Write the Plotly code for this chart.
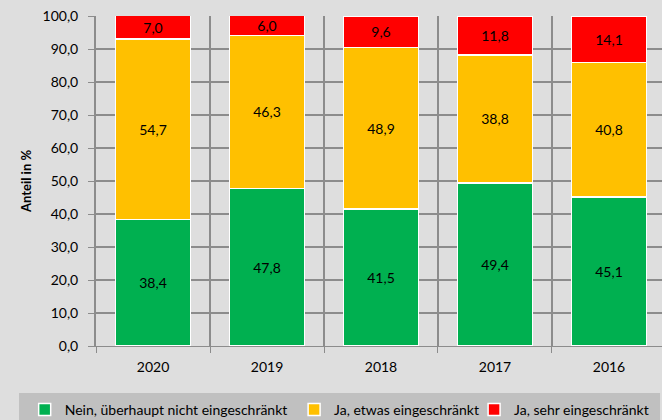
import plotly.graph_objects as go

years = ["2020", "2019", "2018", "2017", "2016"]
nein = [38.4, 47.8, 41.5, 49.4, 45.1]
etwas = [54.7, 46.3, 48.9, 38.8, 40.8]
sehr = [7.0, 6.0, 9.6, 11.8, 14.1]
series_names = ["Nein, überhaupt nicht eingeschränkt", "Ja, etwas eingeschränkt", "Ja, sehr eingeschränkt"]
colors = ["#00b050", "#ffc000", "#ff0000"]
legend_ids = ["legend", "legend2", "legend3"]

FONT = "Lato"
xpos = list(range(len(years)))
fig = go.Figure()
for name, vals, col, lg in zip(series_names, [nein, etwas, sehr], colors, legend_ids):
    fig.add_trace(go.Bar(
        x=xpos, y=vals, name=name, legend=lg, showlegend=True,
        marker=dict(color=col, line=dict(color="white", width=1.5)),
        texttemplate="%{y:.1f}", textposition="inside", insidetextanchor="middle",
        constraintext="none",
        textfont=dict(color="black", size=14, family=FONT),
        hoverinfo="skip",
    ))

grid = "#8c8c8c"
leg_common = dict(orientation="h", y=-0.194, yanchor="middle", xanchor="left",
                  font=dict(size=14, family=FONT), bgcolor="rgba(0,0,0,0)", itemwidth=30)
fig.update_layout(
    barmode="stack", bargap=0.34,
    width=662, height=420,
    paper_bgcolor="#dedede", plot_bgcolor="#dedede",
    separators=",.",
    margin=dict(l=96, r=0, t=16, b=74, autoexpand=False),
    font=dict(family=FONT, size=14, color="black"),
    uniformtext=dict(minsize=14, mode="show"),
    xaxis=dict(
        range=[-0.5, 4.465],
        tickvals=xpos, ticktext=years, showgrid=False,
        ticks="", showline=True, linecolor=grid, linewidth=1,
        zeroline=False, ticklabelstandoff=8,
        minor=dict(tickvals=[i - 0.5 for i in range(len(years) + 1)], showgrid=True,
                   gridcolor=grid, gridwidth=2, ticks="outside", ticklen=6, tickcolor=grid),
        tickfont=dict(size=14),
    ),
    yaxis=dict(
        range=[0, 100], dtick=10, tickformat=".1f",
        showgrid=True, gridcolor=grid, gridwidth=2,
        ticks="outside", ticklen=6, tickcolor=grid, ticklabelstandoff=7,
        showline=True, linecolor=grid, linewidth=2, zeroline=False,
        title=dict(text="<b>Anteil in %</b>", font=dict(size=13), standoff=8),
        tickfont=dict(size=14),
    ),
    legend=dict(x=-0.126, **leg_common),
    legend2=dict(x=0.350, **leg_common),
    legend3=dict(x=0.668, **leg_common),
    shapes=[dict(type="rect", xref="paper", yref="paper", x0=-0.136, x1=0.9965,
                 y0=-0.3, y1=-0.1424, fillcolor="#c0c0c0", line=dict(width=0), layer="below")],
)

fig.write_html("out.html", config={"displayModeBar": False},
               post_script="document.body.style.margin='0';document.body.style.overflow='hidden';")
